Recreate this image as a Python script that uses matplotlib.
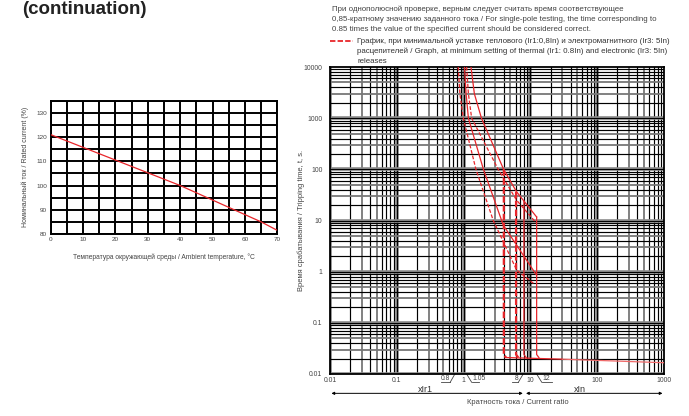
import numpy as np
import matplotlib.pyplot as plt

# left chart: derating vs ambient temperature
temp_c = [0, 20, 40, 55, 65, 70]
rated_pct = [121, 110.5, 100, 91, 85, 81.5]

# right chart: time-current curves (x = multiple of current, t = seconds)
solid_max_x = [1.29, 1.45, 1.85, 3.97, 6.2, 12.4]
solid_max_t = [10000, 3000, 1000, 100, 36.5, 11.7]
solid_min_x = [1.03, 1.09, 1.18, 1.98, 3.93, 12.4]
solid_min_t = [10000, 3000, 1000, 100, 8.1, 0.85]
dash_max_x = [1.11, 1.18, 1.32, 3.3, 6.2, 12.4]
dash_max_t = [10000, 3000, 1000, 100, 25, 8.8]
dash_min_x = [0.83, 0.88, 0.99, 1.53, 2.78, 6.24, 11.5]
dash_min_t = [10000, 3000, 1000, 100, 10, 1.07, 0.57]
inst_solid_x = [8.0, 12.4]
inst_solid_top = [24, 11.7]
inst_dash_x = [4.0, 6.1]
inst_dash_top = [100, 36.5]
floor_x = [4.2, 30, 1000]
floor_t = [0.021, 0.0195, 0.0166]

x_ticks = [0.01, 0.1, 1, 10, 100, 1000]
y_ticks = [0.01, 0.1, 1, 10, 100, 1000, 10000]

RED = '#e8262b'
GREY = '#444444'
fig = plt.figure(figsize=(6.89, 4.16), dpi=100)
plt.rcParams['font.family'] = ['DejaVu Sans']
FONT = 'Liberation Sans'

fig.text(0.032, 1 - 0.5 / 416, '(continuation)', fontsize=13.5, weight='bold',
         family=FONT, color='#222222', va='top')

# ---------------- left chart
ax1 = fig.add_axes([50.7 / 689, 1 - 234 / 416, 226.6 / 689, 133.3 / 416])
ax1.set_xlim(0, 70)
ax1.set_ylim(80, 135)
for v in np.arange(0, 71, 5):
    ax1.axvline(v, color='black', lw=1.4, zorder=1)
for v in np.arange(80, 136, 5):
    ax1.axhline(v, color='black', lw=1.4, zorder=1)
ax1.plot(temp_c, rated_pct, color=RED, lw=0.9, zorder=3)
ax1.set_xticks(np.arange(0, 71, 10))
ax1.set_yticks(np.arange(80, 131, 10))
ax1.tick_params(length=0, labelsize=4.6, colors=GREY)
ax1.tick_params(axis='x', pad=2.5)
ax1.tick_params(axis='y', pad=2.5)
for lab in ax1.get_xticklabels() + ax1.get_yticklabels():
    lab.set_family(FONT)
for s in ax1.spines.values():
    s.set_linewidth(1.4)
ax1.set_xlabel('Температура окружающей среды / Ambient temperature, °C',
               fontsize=4.8, family=FONT, color=GREY)
ax1.xaxis.set_label_coords(0.5, -0.145)
ax1.set_ylabel('Номинальный ток / Rated current (%)', fontsize=5.0,
               family=FONT, color=GREY)
ax1.yaxis.set_label_coords(-0.096, 0.5)

# ---------------- right chart
ax = fig.add_axes([330 / 689, 1 - 374 / 416, 334 / 689, 307 / 416])
ax.set_xscale('log')
ax.set_yscale('log')
ax.set_xlim(0.01, 1000)
ax.set_ylim(0.01, 10000)

for dec in x_ticks[:-1]:
    for m in range(1, 10):
        v = dec * m
        if m == 1:
            ax.axvline(v, color='#8a8a8a', lw=2.6, zorder=1)
            ax.axvline(v, color='black', lw=0.8, zorder=1)
        elif m in (3, 5):
            ax.axvline(v, color='#777777', lw=1.3, zorder=1)
        else:
            ax.axvline(v, color='black', lw=0.85, zorder=1)
for dec in y_ticks[:-1]:
    for m in range(1, 10):
        v = dec * m
        if m == 1:
            ax.axhline(v, color='#8a8a8a', lw=2.6, zorder=1)
            ax.axhline(v, color='black', lw=0.8, zorder=1)
        elif m in (3, 5):
            ax.axhline(v, color='#777777', lw=1.3, zorder=1)
        else:
            ax.axhline(v, color='black', lw=0.85, zorder=1)

DASH = (0, (3, 1.5))
ax.plot(solid_max_x, solid_max_t, color=RED, lw=0.9, zorder=3)
ax.plot(solid_min_x, solid_min_t, color=RED, lw=0.9, zorder=3)
ax.plot(dash_max_x, dash_max_t, color=RED, lw=0.9, ls=DASH, zorder=3)
ax.plot(dash_min_x, dash_min_t, color=RED, lw=0.9, ls=DASH, zorder=3)
for xv, top in zip(inst_solid_x, inst_solid_top):
    ax.plot([xv, xv, xv * 1.08], [top, 0.024, floor_t[0]], color=RED, lw=0.9, zorder=3)
for xv, top in zip(inst_dash_x, inst_dash_top):
    ax.plot([xv, xv, xv * 1.08], [top, 0.024, floor_t[0]], color=RED, lw=1.6,
            ls=(0, (3, 1)), zorder=3)
ax.plot(floor_x[:2], floor_t[:2], color=RED, lw=0.9, zorder=3)
ax.plot(floor_x[1:], floor_t[1:], color='#f06a6a', lw=0.9, zorder=3)

ax.set_xticks(x_ticks)
ax.set_xticklabels(['0.01', '0.1', '1', '10', '100', '1000'])
ax.set_yticks(y_ticks)
ax.set_yticklabels(['0.01', '0.1', '1', '10', '100', '1000', '10000'])
ax.minorticks_off()
ax.tick_params(length=0, labelsize=4.9, colors=GREY)
ax.tick_params(axis='x', pad=2.5)
ax.tick_params(axis='y', pad=5.5)
for lab in ax.get_xticklabels() + ax.get_yticklabels():
    lab.set_family(FONT)
for s in ax.spines.values():
    s.set_linewidth(1.3)
ax.set_ylabel('Время срабатывания / Tripping time, t, s.', fontsize=5.4,
              family=FONT, color=GREY)
ax.yaxis.set_label_coords(-0.075, 0.5)

# underlined setting marks below the axis
tr = ax.get_xaxis_transform()
marks = [('0.8', (0.63, 0.74), (0.46, 0.63), 'r'),
         ('1.05', (1.32, 1.11), (1.32, 1.68), 'l'),
         ('8', (6.6, 7.8), (5.3, 6.6), 'r'),
         ('12', (14.8, 12.4), (14.8, 20.8), 'l')]
for txt, slash, uline, side in marks:
    ax.plot([slash[0], slash[1]], [-0.027, 0.0], transform=tr, color=GREY,
            lw=0.6, clip_on=False)
    ax.plot(uline, [-0.027, -0.027], transform=tr, color=GREY, lw=0.6, clip_on=False)
    if side == 'r':
        ax.text(uline[1] * 0.985, -0.025, txt, transform=tr, ha='right', va='bottom',
                fontsize=4.9, family=FONT, color=GREY)
    else:
        ax.text(uline[0] * 1.02, -0.025, txt, transform=tr, ha='left', va='bottom',
                fontsize=4.9, family=FONT, color=GREY)

ax.text(0.27, -0.036, 'xIr1', transform=tr, ha='center', va='top', fontsize=6.5,
        family=FONT, color='#333333')
ax.text(56, -0.036, 'xIn', transform=tr, ha='center', va='top', fontsize=6.5,
        family=FONT, color='#333333')
ax.annotate('', xy=(0.0105, -0.063), xytext=(7.7, -0.063), xycoords=tr,
            arrowprops=dict(arrowstyle='<|-|>', color='black', lw=0.7,
                            mutation_scale=4, shrinkA=0, shrinkB=0))
ax.annotate('', xy=(8.6, -0.063), xytext=(950, -0.063), xycoords=tr,
            arrowprops=dict(arrowstyle='<|-|>', color='black', lw=0.7,
                            mutation_scale=4, shrinkA=0, shrinkB=0))
ax.text(6.4, -0.082, 'Кратность тока / Current ratio', transform=tr, ha='center',
        va='top', fontsize=5.4, family=FONT, color=GREY)

# notes above the chart
note = ('При однополюсной проверке, верным следует считать время соответствующее\n'
        '0,85-кратному значению заданного тока / For single-pole testing, the time corresponding to\n'
        '0.85 times the value of the specified current should be considered correct.')
fig.text(332 / 689, 1 - 6 / 416, note, fontsize=5.7, family=FONT, color=GREY,
         va='top', linespacing=1.55)
fig.add_artist(plt.Line2D([330 / 689, 352.7 / 689], [1 - 40.5 / 416] * 2, color=RED, lw=1.3,
                          ls=(0, (3, 1.2))))
legend_txt = ('График, при минимальной уставке теплового (Ir1:0,8In) и электромагнитного (Ir3: 5In)\n'
              'расцепителей / Graph, at minimum setting of thermal (Ir1: 0.8In) and electronic (Ir3: 5In)\n'
              'releases')
fig.text(357 / 689, 1 - 38 / 416, legend_txt, fontsize=5.7, family=FONT, color='#333333',
         va='top', linespacing=1.45)

fig.savefig('out.png', dpi=100)
